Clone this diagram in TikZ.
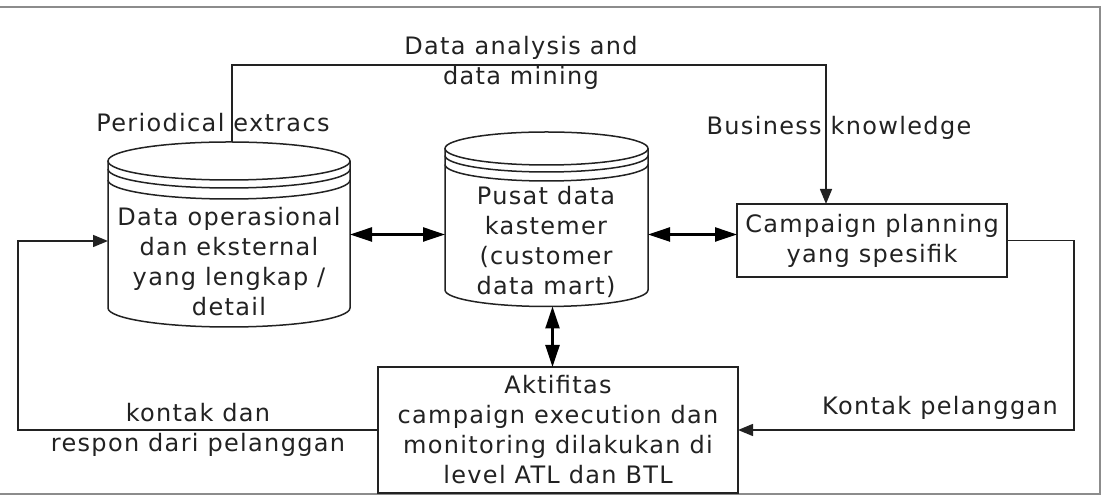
\documentclass[tikz,border=0pt]{standalone}
\usepackage{fontspec}
\setmainfont{DejaVu Sans}[LetterSpace=5.5]
\usetikzlibrary{arrows.meta,calc}
\definecolor{ink}{HTML}{222222}
\definecolor{frame}{HTML}{8C8C8C}
\begin{document}
\begin{tikzpicture}[x=1pt,y=1pt,
  line width=1.5pt, draw=ink,
  every node/.style={font=\fontsize{24}{30}\selectfont, text=ink},
  txt/.style={align=center, inner sep=0pt},
  body/.style={inner sep=0pt, outer sep=0pt},
  box/.style={draw=ink, rectangle, inner sep=0pt, outer sep=0pt, align=center, fill=white},
  dbl/.style={{Triangle[length=22pt,width=14pt]}-{Triangle[length=22pt,width=14pt]}, line width=2.4pt, draw=black},
  sgl/.style={-{Triangle[length=15pt,width=12pt]}, draw=ink},
]
\useasboundingbox (0,0) rectangle (1103,497);
\draw[frame, line width=2pt] (-10,3) rectangle (1100,490);

% left cylinder
\draw[ink, fill=white] (108,336) -- (108,189) arc[start angle=180, end angle=360, x radius=121pt, y radius=19pt] -- (350,336);
\draw[ink, fill=white] (229,336) ellipse[x radius=121pt, y radius=19pt];
\draw[ink] (108,328) arc[start angle=180, end angle=360, x radius=121pt, y radius=19pt];
\draw[ink] (108,317) arc[start angle=180, end angle=360, x radius=121pt, y radius=19pt];
% center cylinder
\draw[ink, fill=white] (445,348.5) -- (445,207) arc[start angle=180, end angle=360, x radius=101.5pt, y radius=16.5pt] -- (648,348.5);
\draw[ink, fill=white] (546.5,348.5) ellipse[x radius=101.5pt, y radius=16.5pt];
\draw[ink] (445,341.5) arc[start angle=180, end angle=360, x radius=101.5pt, y radius=16.5pt];
\draw[ink] (445,332.5) arc[start angle=180, end angle=360, x radius=101.5pt, y radius=16.5pt];

% nodes
\node[body, minimum width=242pt, minimum height=185pt] (L) at (229,262.5) {};
\node[txt] (Lt) at (229,235) {Data operasional\\dan eksternal\\yang lengkap /\\detail};
\node[body, minimum width=203pt, minimum height=175pt] (C) at (546.5,278) {};
\node[txt] (Ct) at (546,255.5) {Pusat data\\kastemer\\(customer\\data mart)};
\node[box, minimum width=270pt, minimum height=73pt] (P) at (872,256.5) {Campaign planning\\yang spesifik};
\node[box, minimum width=360pt, minimum height=126pt] (A) at (558,67) {Aktifitas\\campaign execution dan\\monitoring dilakukan di\\level ATL dan BTL};

% labels
\node[txt] (l1) at (521,434) {Data analysis and\\data mining};
\node[txt] (l2) at (213,374) {Periodical extracs};
\node[txt] (l3) at (839,369) {Business knowledge};
\node[txt] (l4) at (198,67) {kontak dan\\respon dari pelanggan};
\node[txt] (l5) at (940,89) {Kontak pelanggan};

% connectors
\draw[dbl] (L.east) -- (L.east -| C.west);
\draw[dbl] (L.east -| C.east) -- (L.east -| P.west);
\draw[dbl] ([xshift=6pt]C.south) -- ([xshift=6pt]C.south |- A.north);
\draw[sgl] ([xshift=3pt]L.north) -- ++(0,77) -| ([xshift=-46pt]P.north);
\draw[sgl] (P.east) -- ++(67,0) |- (A.east);
\draw[sgl] (A.west) -- ++(-360,0) |- ([yshift=-6.5pt]L.west);
\end{tikzpicture}
\end{document}
